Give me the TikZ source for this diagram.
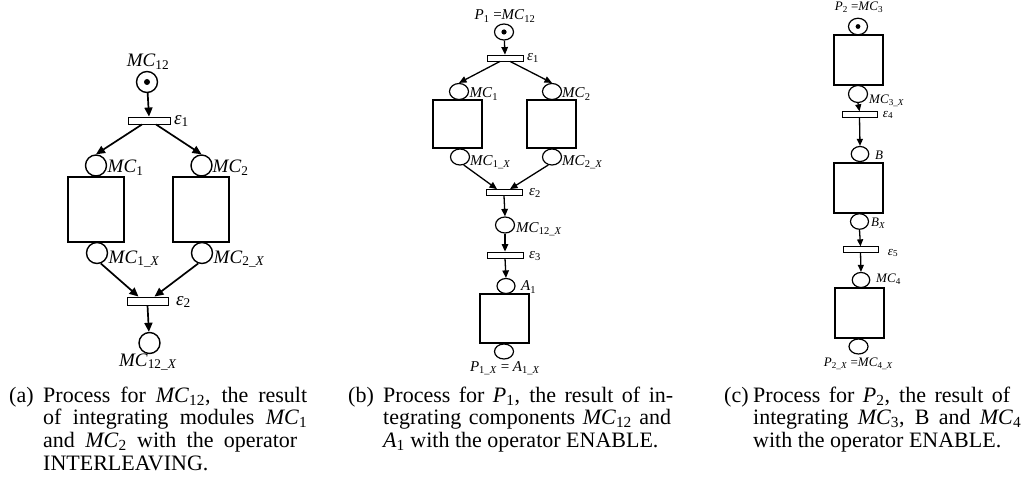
\documentclass[tikz,border=0pt]{standalone}
\usepackage{fontspec}
\setmainfont{Liberation Serif}
\usetikzlibrary{arrows.meta,calc,shapes.geometric}
\newcommand\tsb[1]{\textsubscript{#1}}
\newcommand\jline[2]{\makebox[#1pt][s]{#2}}
\begin{document}
\begin{tikzpicture}[x=1pt,y=-1pt,
  plA/.style={circle,draw,line width=1.4pt,minimum size=21pt,inner sep=0pt},
  plB/.style={ellipse,draw,line width=1.2pt,minimum width=19pt,minimum height=16pt,inner sep=0pt},
  plC/.style={ellipse,draw,line width=1.2pt,minimum width=18pt,minimum height=15.5pt,inner sep=0pt},
  bxA/.style={rectangle,draw,line width=1.4pt,minimum width=56pt,minimum height=65pt,inner sep=0pt},
  bxB/.style={rectangle,draw,line width=1.3pt,minimum width=49pt,minimum height=48pt,inner sep=0pt},
  bxC/.style={rectangle,draw,line width=1.3pt,minimum width=49pt,minimum height=50pt,inner sep=0pt},
  trA/.style={rectangle,draw,fill=white,line width=0.9pt,minimum width=42pt,minimum height=7pt,inner sep=0pt},
  trB/.style={rectangle,draw,fill=white,line width=0.8pt,minimum width=36pt,minimum height=6pt,inner sep=0pt},
  trC/.style={rectangle,draw,fill=white,line width=0.8pt,minimum width=35pt,minimum height=5.5pt,inner sep=0pt},
  arA/.style={-{Triangle[length=9pt,width=8pt]},line width=1.7pt},
  arB/.style={-{Triangle[length=7.5pt,width=6.5pt]},line width=1.3pt},
  arC/.style={-{Triangle[length=7pt,width=6pt]},line width=1.3pt},
  lbA/.style={inner sep=0pt,font=\fontsize{19}{21}\selectfont},
  lbB/.style={inner sep=0pt,font=\fontsize{15}{17}\selectfont},
  lbC/.style={inner sep=0pt,font=\fontsize{13}{15}\selectfont},
  captxt/.style={anchor=base west,inner sep=0pt,font=\fontsize{22}{22.7}\selectfont}
]
\useasboundingbox (0,0) rectangle (1027,502);

% ---------------- panel (a)
\node[plA] (a0) at (147,82) {};
\fill (a0.center) circle[radius=3pt];
\node[lbA] (a0l) at (148,62) {\textit{MC}\tsb{12}};
\node[trA] (ae1) at (149,120.5) {};
\node[lbA,anchor=west] (ae1l) at (174,121) {\textit{ε}\tsb{1}};
\node[bxA] (ab1) at (96,209.5) {};
\node[bxA] (ab2) at (201,209.5) {};
\node[plA] (am1) at (96,165.5) {};
\node[plA] (am2) at (201.5,165.5) {};
\node[lbA,anchor=west] (am1l) at (107.5,168) {\textit{MC}\tsb{1}};
\node[lbA,anchor=west] (am2l) at (212.5,168) {\textit{MC}\tsb{2}};
\node[plA] (ax1) at (97,253) {};
\node[plA] (ax2) at (202,253) {};
\node[lbA,anchor=west] (ax1l) at (108.5,259) {\textit{MC}\tsb{1\_\textit{X}}};
\node[lbA,anchor=west] (ax2l) at (213.5,259) {\textit{MC}\tsb{2\_\textit{X}}};
\node[trA,minimum width=41pt,minimum height=8pt] (ae2) at (147.5,301) {};
\node[lbA,anchor=west] (ae2l) at (176,302) {\textit{ε}\tsb{2}};
\node[plA] (ax12) at (149.5,343) {};
\node[lbA] (ax12l) at (148,362) {\textit{MC}\tsb{12\_\textit{X}}};
\draw[arA] (a0) -- (ae1.north);
\draw[arA] ([xshift=-7pt]ae1.south) -- (am1.north);
\draw[arA] ([xshift=7pt]ae1.south) -- (am2.north);
\draw[arA] (ax1.-70) -- ([xshift=-9pt]ae2.north);
\draw[arA] (ax2.-110) -- ([xshift=7pt]ae2.north);
\draw[arA] (ae2.south) -- (ax12);

% ---------------- panel (b)
\node[plB] (b0) at (504,32) {};
\fill (b0.center) circle[radius=2.6pt];
\node[lbB] (b0l) at (505,16) {\textit{P}\tsb{1} =\textit{MC}\tsb{12}};
\node[trB] (be1) at (505,58) {};
\node[lbB] (be1l) at (533,58) {\textit{ε}\tsb{1}};
\node[bxB] (bb1) at (457.5,124) {};
\node[bxB] (bb2) at (551.5,124) {};
\node[plB] (bm1) at (459,91.5) {};
\node[plB] (bm2) at (552,91.5) {};
\node[lbB,anchor=west] (bm1l) at (469.5,94) {\textit{MC}\tsb{1}};
\node[lbB,anchor=west] (bm2l) at (562,94) {\textit{MC}\tsb{2}};
\node[plB] (bx1) at (460,157) {};
\node[plB] (bx2) at (552,157) {};
\node[lbB,anchor=west] (bx1l) at (470,162) {\textit{MC}\tsb{1\_\textit{X}}};
\node[lbB,anchor=west] (bx2l) at (562,162) {\textit{MC}\tsb{2\_\textit{X}}};
\node[trB] (be2) at (504,192.5) {};
\node[lbB] (be2l) at (535,193) {\textit{ε}\tsb{2}};
\node[plB] (bx12) at (505,225) {};
\node[lbB,anchor=west] (bx12l) at (516,229) {\textit{MC}\tsb{12\_\textit{X}}};
\node[trB] (be3) at (505,255) {};
\node[lbB] (be3l) at (535,256) {\textit{ε}\tsb{3}};
\node[bxB,minimum height=49pt] (bb3) at (504.5,318.5) {};
\node[plB,minimum width=18pt,minimum height=15pt] (ba1) at (506,286) {};
\node[lbB,anchor=west] (ba1l) at (521,287) {\textit{A}\tsb{1}};
\node[plB,minimum height=15pt] (bend) at (504,351.5) {};
\node[lbB] (bendl) at (505,368) {\textit{P}\tsb{1\_\textit{X}} = \textit{A}\tsb{1\_\textit{X}}};
\draw[arB] (b0) -- (be1.north);
\draw[arB] ([xshift=-5pt]be1.south) -- (bm1.north);
\draw[arB] ([xshift=5pt]be1.south) -- (bm2.north);
\draw[arB] (bx1.-65) -- ([xshift=-7pt]be2.north);
\draw[arB] (bx2.-115) -- ([xshift=6pt]be2.north);
\draw[arB] (be2.south) -- (bx12.north);
\draw[arB] (bx12.south) -- (be3.north);
\draw[arB] (be3.south) -- (ba1.north);

% ---------------- panel (c)
\node[lbC] (c0l) at (859,7) {\textit{P}\tsb{2} =\textit{MC}\tsb{3}};
\node[plC,fill=white,minimum width=19pt,minimum height=16.5pt] (c0) at (858,26.5) {};
\fill (c0.center) circle[radius=2.4pt];
\node[bxC] (cb1) at (858.5,60) {};
\node[plC,minimum width=19pt,minimum height=17pt] (cx3) at (858,94) {};
\node[lbC,anchor=west] (cx3l) at (869,101) {\textit{MC}\tsb{3\_\textit{X}}};
\node[trC] (ce4) at (859.5,114.5) {};
\node[lbC] (ce4l) at (888,115) {\textit{ε}\tsb{4}};
\node[plC,minimum width=17.5pt,minimum height=15pt] (cb) at (860,154) {};
\node[lbC,anchor=west] (cbl) at (875,155) {\textit{B}};
\node[bxC] (cb2) at (858.5,188) {};
\node[plC] (cbx) at (859.5,221.5) {};
\node[lbC,anchor=west] (cbxl) at (871,223) {\textit{B}\tsb{\textit{X}}};
\node[trC] (ce5) at (860.5,249.5) {};
\node[lbC] (ce5l) at (893,253) {\textit{ε}\tsb{5}};
\node[plC,minimum width=17.5pt,minimum height=15pt] (cm4) at (861,280) {};
\node[lbC,anchor=west] (cm4l) at (876,279) {\textit{MC}\tsb{4}};
\node[bxC] (cb3) at (859.5,313) {};
\node[plC,minimum width=19pt,minimum height=15pt] (cend) at (858.5,346.5) {};
\node[lbC] (cendl) at (858.5,364) {\textit{P}\tsb{2\_\textit{X}} =\textit{MC}\tsb{4\_\textit{X}}};
\draw[arC] (cx3.south) -- (ce4.north);
\draw[arC] (ce4.south) -- (cb.north);
\draw[arC] (cbx.south) -- (ce5.north);
\draw[arC] (ce5.south) -- (cm4.north);

% ---------------- captions
\node[captxt] (ca0) at (9,402) {(a)};
\node[captxt] (ca1) at (43,402) {\jline{264}{Process for \textit{MC}\tsb{12}, the result}};
\node[captxt] (ca2) at (43,424.7) {\jline{264}{of integrating modules \textit{MC}\tsb{1}}};
\node[captxt] (ca3) at (43,447.4) {\jline{254}{and \textit{MC}\tsb{2} with the operator}};
\node[captxt] (ca4) at (43,470.1) {INTERLEAVING.};
\node[captxt] (cb0) at (348,402) {(b)};
\node[captxt] (cbc1) at (383,402) {\jline{290}{Process for \textit{P}\tsb{1}, the result of in-}};
\node[captxt] (cbc2) at (383,424.7) {\jline{288}{tegrating components \textit{MC}\tsb{12} and}};
\node[captxt] (cbc3) at (383,447.4) {\textit{A}\tsb{1} with the operator ENABLE.};
\node[captxt] (cc0) at (724,402) {(c)};
\node[captxt] (ccc1) at (753,402) {\jline{257}{Process for \textit{P}\tsb{2}, the result of}};
\node[captxt] (ccc2) at (753,424.7) {\jline{268}{integrating \textit{MC}\tsb{3}, B and \textit{MC}\tsb{4}}};
\node[captxt] (ccc3) at (753,447.4) {with the operator ENABLE.};
\end{tikzpicture}
\end{document}
